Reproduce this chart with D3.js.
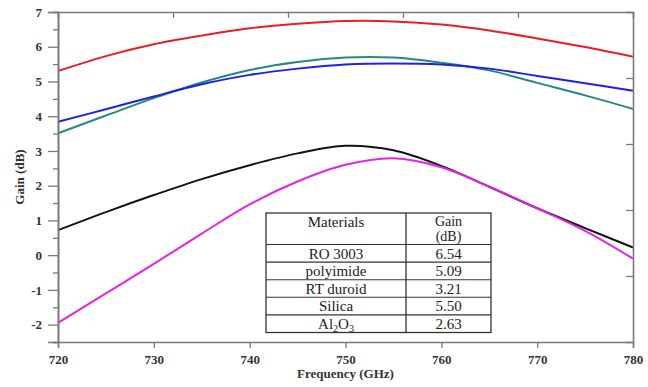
<!DOCTYPE html>
<html>
<head>
<meta charset="utf-8">
<script src="https://cdn.jsdelivr.net/npm/d3@7"></script>
<style>
  html, body { margin: 0; padding: 0; background: #fff; }
  svg { display: block; }
</style>
</head>
<body>
<svg id="chart" width="648" height="387"></svg>
<script>
// Frequency sweep (GHz)
const freq = [720, 725, 730, 735, 740, 745, 750, 755, 760, 765, 770, 775, 780];

// Gain (dB) for each substrate material
const gainRO3003    = [5.30, 5.73, 6.07, 6.32, 6.53, 6.66, 6.74, 6.73, 6.64, 6.47, 6.24, 5.99, 5.71];
const gainPolyimide = [3.51, 4.02, 4.52, 4.97, 5.33, 5.56, 5.69, 5.69, 5.54, 5.32, 4.96, 4.60, 4.21];
const gainSilica    = [3.84, 4.20, 4.57, 4.92, 5.19, 5.37, 5.49, 5.52, 5.49, 5.37, 5.16, 4.95, 4.73];
const gainRTDuroid  = [0.72, 1.24, 1.73, 2.19, 2.59, 2.93, 3.15, 3.02, 2.57, 1.97, 1.35, 0.78, 0.22];
const gainAl2O3     = [-1.95, -1.10, -0.25, 0.62, 1.46, 2.12, 2.60, 2.79, 2.53, 1.97, 1.35, 0.70, -0.10];

// Axis ticks
const xTicks = [720, 730, 740, 750, 760, 770, 780];
const yTicks = [-2, -1, 0, 1, 2, 3, 4, 5, 6, 7];

// Inset table rows
const tableMaterials = ["RO 3003", "polyimide", "RT duroid", "Silica", "Al2O3"];
const tableGains = ["6.54", "5.09", "3.21", "5.50", "2.63"];

const series = [
  { name: "RO 3003",   values: gainRO3003,    color: "#ec1c24" },
  { name: "polyimide", values: gainPolyimide, color: "#26897e" },
  { name: "Silica",    values: gainSilica,    color: "#1f1fe6" },
  { name: "RT duroid", values: gainRTDuroid,  color: "#141414" },
  { name: "Al2O3",     values: gainAl2O3,     color: "#e424e4" }
];

const svg = d3.select("#chart");
const plotL = 58, plotR = 633, plotT = 12, plotB = 342;
const axisColor = "#7a7a7a";
const serif = "'Liberation Serif', 'DejaVu Serif', serif";

const x = d3.scaleLinear().domain([720, 780]).range([plotL, plotR]);
const y = d3.scaleLinear().domain([-2.5, 7]).range([plotB, plotT]);

// Curves
const line = d3.line()
  .x((d, i) => x(freq[i]))
  .y(d => y(d))
  .curve(d3.curveCatmullRom.alpha(0.5));

svg.append("g").selectAll("path")
  .data(series)
  .join("path")
  .attr("d", d => line(d.values))
  .attr("fill", "none")
  .attr("stroke", d => d.color)
  .attr("stroke-width", 2);

// Left axis with half-unit minor ticks (plain hyphen for negatives)
const plain = d => String(d);
const yAxis = svg.append("g").attr("transform", `translate(${plotL},0)`)
  .call(d3.axisLeft(y).tickValues(yTicks).tickSize(10).tickPadding(6).tickFormat(plain));
yAxis.append("g").call(d3.axisLeft(y).tickValues(d3.range(-2.5, 7, 1)).tickSize(5).tickFormat(""));

// Bottom axis
const xAxis = svg.append("g").attr("transform", `translate(0,${plotB})`)
  .call(d3.axisBottom(x).tickValues(xTicks).tickSize(6).tickPadding(7).tickFormat(plain));

// Top and right frame with inward ticks
const xFrame = d3.scaleLinear().domain([0, 5]).range([plotL, plotR]);
const yFrame = d3.scaleLinear().domain([0, 5]).range([plotB, plotT]);
const topAxis = svg.append("g").attr("transform", `translate(0,${plotT})`)
  .call(d3.axisTop(xFrame).tickValues([1, 2, 3, 4]).tickSize(-6).tickFormat(""));
const rightAxis = svg.append("g").attr("transform", `translate(${plotR},0)`)
  .call(d3.axisRight(yFrame).tickValues([1, 2, 3, 4]).tickSize(-7).tickFormat(""));

[yAxis, xAxis, topAxis, rightAxis].forEach(g => {
  g.selectAll("path").attr("stroke", axisColor).attr("stroke-width", 1.6);
  g.selectAll("line").attr("stroke", axisColor).attr("stroke-width", 1.3);
  g.selectAll("text")
    .attr("fill", "#333")
    .style("font-family", serif)
    .style("font-weight", "bold")
    .style("font-size", "13px");
});

// Axis titles
svg.append("text")
  .attr("transform", `translate(24,${(plotT + plotB) / 2}) rotate(-90)`)
  .attr("text-anchor", "middle")
  .style("font-family", serif).style("font-weight", "bold").style("font-size", "13px")
  .attr("fill", "#333")
  .text("Gain (dB)");

svg.append("text")
  .attr("x", (plotL + plotR) / 2)
  .attr("y", 378)
  .attr("text-anchor", "middle")
  .style("font-family", serif).style("font-weight", "bold").style("font-size", "13px")
  .attr("fill", "#333")
  .text("Frequency (GHz)");

// Inset table of peak gains
const tX0 = 266, tX1 = 406, tX2 = 491;
const tY0 = 213, headerH = 31.5, rowH = 17.6;
const tY1 = tY0 + headerH + rowH * tableMaterials.length;
const table = svg.append("g");
table.append("rect")
  .attr("x", tX0).attr("y", tY0)
  .attr("width", tX2 - tX0).attr("height", tY1 - tY0)
  .attr("fill", "#fff").attr("stroke", "#333").attr("stroke-width", 1.3);
table.append("line")
  .attr("x1", tX1).attr("x2", tX1).attr("y1", tY0).attr("y2", tY1)
  .attr("stroke", "#333").attr("stroke-width", 1.3);
table.selectAll("line.row")
  .data(tableMaterials)
  .join("line")
  .attr("class", "row")
  .attr("x1", tX0).attr("x2", tX2)
  .attr("y1", (d, i) => tY0 + headerH + rowH * i)
  .attr("y2", (d, i) => tY0 + headerH + rowH * i)
  .attr("stroke", "#333").attr("stroke-width", 1.1);

const cellText = (sel, size) => sel
  .attr("text-anchor", "middle")
  .style("font-family", serif)
  .style("font-size", (size || 15) + "px")
  .attr("fill", "#222");

table.append("text").call(cellText)
  .attr("x", (tX0 + tX1) / 2).attr("y", tY0 + 14).text("Materials");
table.append("text").call(cellText, 14)
  .attr("x", (tX1 + tX2) / 2).attr("y", tY0 + 12.5).text("Gain");
table.append("text").call(cellText, 14)
  .attr("x", (tX1 + tX2) / 2).attr("y", tY0 + 28).text("(dB)");

tableMaterials.forEach((m, i) => {
  const base = tY0 + headerH + rowH * i + 14;
  const t = table.append("text").call(cellText)
    .attr("x", (tX0 + tX1) / 2).attr("y", base);
  if (m === "Al2O3") {
    t.append("tspan").text("Al");
    t.append("tspan").attr("dy", 3).style("font-size", "10px").text("2");
    t.append("tspan").attr("dy", -3).text("O");
    t.append("tspan").attr("dy", 3).style("font-size", "10px").text("3");
  } else {
    t.text(m);
  }
  table.append("text").call(cellText)
    .attr("x", (tX1 + tX2) / 2).attr("y", base).text(tableGains[i]);
});
</script>
</body>
</html>
